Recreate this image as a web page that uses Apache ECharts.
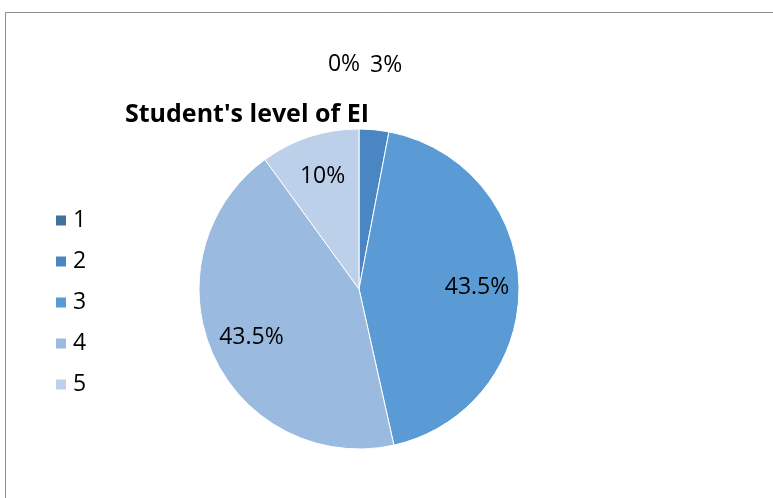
<!DOCTYPE html>
<html>
<head>
<meta charset="utf-8">
<script src="https://cdn.jsdelivr.net/npm/echarts@6/dist/echarts.min.js"></script>
<style>
html,body{margin:0;padding:0;background:#fff;}
#main{width:773px;height:498px;}
</style>
</head>
<body>
<div id="main"></div>
<script>
const categories = ['1', '2', '3', '4', '5'];
const values = [0, 3, 43.5, 43.5, 10];
const labelTexts = ['0%', '3%', '43.5%', '43.5%', '10%'];
const colors = ['#41719C', '#4A87C2', '#5B9BD5', '#9BBAE0', '#BDD0EA'];

const chart = echarts.init(document.getElementById('main'));
const font = '"Open Sans", Lato, sans-serif';
const labelOffsets = [[-15, -107], [16, -106], [0, 0], [0, 0], [0, 0]];

chart.setOption({
  animation: false,
  backgroundColor: '#fff',
  color: colors,
  title: {
    text: "Student's level of EI",
    left: 120,
    top: 97,
    textStyle: { fontFamily: font, fontWeight: 'bold', fontSize: 25, color: '#000' }
  },
  legend: {
    orient: 'vertical',
    left: 49,
    top: 204,
    itemWidth: 12,
    itemHeight: 12,
    itemGap: 18,
    icon: 'rect',
    data: categories,
    textStyle: { fontFamily: font, fontSize: 23, color: '#000', padding: [0, 0, 0, 1] }
  },
  graphic: [
    { type: 'line', shape: { x1: 5.5, y1: 12.5, x2: 773, y2: 12.5 }, style: { stroke: '#8c8c8c', lineWidth: 1 } },
    { type: 'line', shape: { x1: 5.5, y1: 12.5, x2: 5.5, y2: 498 }, style: { stroke: '#8c8c8c', lineWidth: 1 } }
  ],
  series: [
    {
      type: 'pie',
      center: [359, 289],
      radius: [0, 160],
      startAngle: 90,
      clockwise: true,
      silent: true,
      label: { show: false },
      labelLine: { show: false },
      itemStyle: { borderColor: '#fff', borderWidth: 1 },
      data: categories.map((c, i) => ({ name: c, value: values[i] }))
    },
    {
      type: 'pie',
      center: [359, 289],
      radius: [0, 230],
      startAngle: 90,
      clockwise: true,
      silent: true,
      legendHoverLink: false,
      itemStyle: { color: 'rgba(0,0,0,0)' },
      labelLine: { show: false },
      label: {
        show: true,
        position: 'inside',
        fontFamily: font,
        fontSize: 23,
        color: '#000'
      },
      data: categories.map((c, i) => ({
        name: c + ' ',
        value: values[i],
        label: { formatter: labelTexts[i], offset: labelOffsets[i] }
      }))
    }
  ]
});
</script>
</body>
</html>
